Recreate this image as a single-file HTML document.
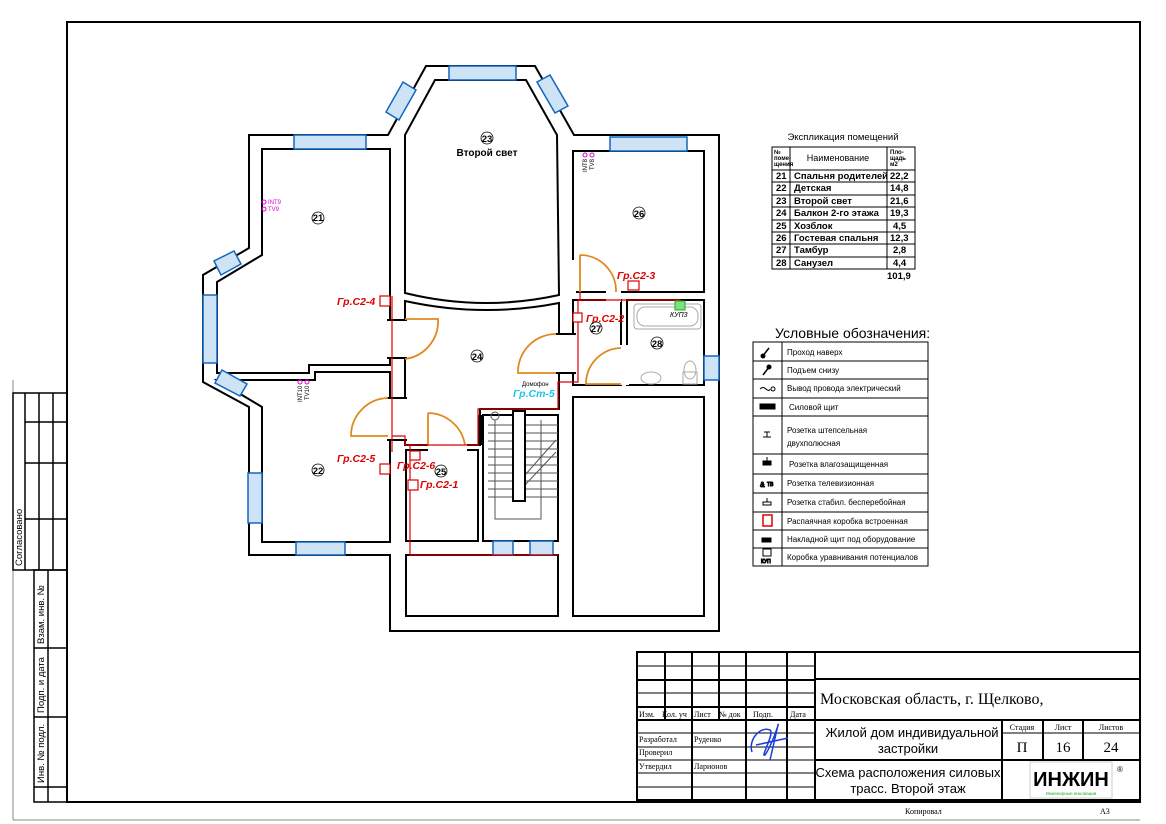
<!DOCTYPE html>
<html><head><meta charset="utf-8"><style>
html,body{margin:0;padding:0;background:#fff;}
svg{display:block;font-family:"Liberation Sans","DejaVu Sans",sans-serif;}
.s{font-family:"Liberation Serif",serif;}
.n{font-family:"Liberation Sans Narrow","Liberation Sans",sans-serif;}
</style></head><body>
<svg width="1166" height="824" viewBox="0 0 1166 824" xmlns="http://www.w3.org/2000/svg">
<rect width="1166" height="824" fill="#fff"/>
<rect x="67" y="22" width="1073" height="780" fill="none" stroke="#000" stroke-width="2"/>
<line x1="13" y1="380" x2="13" y2="820" stroke="#888" stroke-width="1"/>
<line x1="13" y1="820" x2="1140" y2="820" stroke="#888" stroke-width="1"/>
<g stroke="#000" stroke-width="1.5" fill="none">
<rect x="13" y="393" width="54" height="177"/>
<line x1="25" y1="393" x2="25" y2="570"/>
<line x1="39" y1="393" x2="39" y2="570"/>
<line x1="53" y1="393" x2="53" y2="570"/>
<line x1="25" y1="422" x2="67" y2="422"/>
<line x1="25" y1="463" x2="67" y2="463"/>
<line x1="25" y1="519" x2="67" y2="519"/>
<rect x="34" y="570" width="33" height="232"/>
<line x1="48" y1="570" x2="48" y2="802"/>
<line x1="34" y1="648" x2="67" y2="648"/>
<line x1="34" y1="717" x2="67" y2="717"/>
<line x1="34" y1="787" x2="67" y2="787"/>
</g>
<g font-size="9.5">
<text transform="translate(22,566) rotate(-90)">Согласовано</text>
<text transform="translate(44,644) rotate(-90)">Взам. инв. №</text>
<text transform="translate(44,713) rotate(-90)">Подп. и дата</text>
<text transform="translate(44,783) rotate(-90)">Инв. № подл.</text>
</g>

<path d="M249,135 L388,135 L426,66 L535,66 L574,135 L719,135 L719,631 L390,631 L390,555 L249,555 L249,407 L203,382 L203,275 L249,248 Z" fill="#fff" stroke="#000" stroke-width="2"/>
<g fill="#fff" stroke="#000" stroke-width="2">
<path d="M262,149 L390,149 L390,365 L309,365 L309,373 L217,373 L217,282 L262,255 Z"/>
<path d="M217,380 L315,380 L315,372 L390,372 L390,542 L262,542 L262,407 Z"/>
<path d="M405,135 L435,80 L526,80 L557,135 L559,295 Q482,312 405,293 Z"/>
<path d="M405,301 Q482,318 559,303 L559,373 L559,409 L480,409 L480,445 L405,445 Z"/>
<rect x="573" y="151" width="131" height="141"/>
<rect x="573" y="300" width="48" height="85"/>
<rect x="627" y="300" width="77" height="85"/>
<rect x="573" y="397" width="131" height="219"/>
<rect x="406" y="450" width="72" height="91"/>
<rect x="483" y="415" width="75" height="126"/>
<rect x="406" y="555" width="152" height="61"/>
</g>
<g fill="#fff" stroke="none">
<rect x="387" y="320" width="20" height="38"/>
<rect x="387" y="398" width="20" height="42"/>
<rect x="556" y="334" width="20" height="39"/>
<rect x="428" y="443" width="39" height="10"/>
<rect x="570" y="260" width="6" height="35"/>
<rect x="606" y="290" width="15" height="12"/>
<rect x="619" y="345" width="10" height="40"/>
</g>
<g stroke="#000" stroke-width="2" fill="none">
<line x1="387" y1="320" x2="407" y2="320"/><line x1="387" y1="358" x2="407" y2="358"/>
<line x1="387" y1="398" x2="407" y2="398"/><line x1="387" y1="440" x2="407" y2="440"/>
<line x1="556" y1="334" x2="576" y2="334"/><line x1="556" y1="373" x2="576" y2="373"/>
<line x1="480" y1="415" x2="480" y2="445" stroke-width="4"/>
</g>
<g stroke="#555" stroke-width="1" fill="none">
<line x1="488" y1="425" x2="558" y2="425"/><line x1="488" y1="433" x2="558" y2="433"/>
<line x1="488" y1="441" x2="558" y2="441"/><line x1="488" y1="449" x2="558" y2="449"/>
<line x1="488" y1="457" x2="558" y2="457"/><line x1="488" y1="465" x2="558" y2="465"/>
<line x1="488" y1="473" x2="558" y2="473"/><line x1="488" y1="481" x2="558" y2="481"/>
<line x1="488" y1="489" x2="558" y2="489"/><line x1="488" y1="497" x2="558" y2="497"/>
<path d="M495,420 L495,519 L541,519 L541,420"/>
<line x1="525" y1="475" x2="556" y2="440"/><line x1="525" y1="485" x2="556" y2="452"/>
<circle cx="495" cy="416" r="4"/>
</g>
<rect x="513" y="411" width="12" height="90" fill="#fff" stroke="#000" stroke-width="2"/>
<g stroke="#aaa" stroke-width="1" fill="none">
<rect x="634" y="304" width="67" height="25" rx="3"/><rect x="637" y="307" width="61" height="19" rx="8"/>
<ellipse cx="651" cy="378" rx="10" ry="6"/><rect x="683" y="372" width="14" height="12"/><ellipse cx="690" cy="370" rx="6" ry="9"/>
</g>
<g fill="#cfe3f7" stroke="#1565c0" stroke-width="1.5">
<rect x="294" y="135" width="72" height="14"/>
<rect x="296" y="542" width="49" height="13"/>
<rect x="610" y="137" width="77" height="14"/>
<rect x="449" y="66" width="67" height="14"/>
<rect x="203" y="295" width="14" height="68"/>
<rect x="248" y="473" width="14" height="50"/>
<rect x="493" y="541" width="20" height="14"/>
<rect x="530" y="541" width="23" height="14"/>
<rect x="704" y="356" width="15" height="24"/>
<polygon points="403,82 416,90 399,120 386,112"/>
<polygon points="537,82 550,75 568,106 555,113"/>
<polygon points="214,261 221,275 241,264 234,251"/>
<polygon points="215,383 222,370 247,384 240,396"/>
</g>
<g stroke="#e08a1e" stroke-width="1.8" fill="none">
<path d="M405,319 L438,319 A38,38 0 0 1 405,359"/>
<path d="M388,398 A38,38 0 0 0 351,436 L388,436"/>
<path d="M428,413 L428,445 M428,413 A38,38 0 0 1 465,445"/>
<path d="M556,334 A38,38 0 0 0 518,373 L556,373"/>
<path d="M580,255 L580,292 M580,255 A36,36 0 0 1 616,292"/>
<path d="M621,348 A36,36 0 0 0 586,384 L621,384"/>
</g>
<g stroke="#d00" stroke-width="1.2" fill="none">
<path d="M392,296 L392,452 M392,436 L405,436 L405,445 L428,445 L465,445 L478,445 L478,409 L558,409 L558,382 L578,382 L578,300 L628,300 L680,300 L680,310"/>
<path d="M410,445 L410,555 L558,555"/>
<path d="M580,300 L580,292"/>
</g>
<g fill="#fff" stroke="#d00" stroke-width="1.2">
<rect x="380" y="296" width="10" height="10"/>
<rect x="380" y="464" width="10" height="10"/>
<rect x="410" y="451" width="10" height="9"/>
<rect x="408" y="480" width="10" height="10"/>
<rect x="573" y="313" width="9" height="9"/>
<rect x="628" y="281" width="11" height="9"/>
</g>
<rect x="675" y="301" width="10" height="9" fill="#7ee07e" stroke="#2a2" stroke-width="1"/>
<g fill="#d00" font-style="italic" font-size="10.5" font-weight="bold">
<text x="337" y="305">Гр.С2-4</text>
<text x="337" y="462">Гр.С2-5</text>
<text x="397" y="469">Гр.С2-6</text>
<text x="420" y="488">Гр.С2-1</text>
<text x="586" y="322">Гр.С2-2</text>
<text x="617" y="279">Гр.С2-3</text>
</g>
<text x="513" y="397" fill="#19c6e6" font-style="italic" font-size="10.5" font-weight="bold">Гр.Ст-5</text>
<text x="522" y="386" font-size="6">Домофон</text>
<text x="670" y="317" font-size="7" font-style="italic">КУП3</text>
<g fill="#d0d" font-size="6">
<text x="268" y="204">INT9</text><text x="268" y="211">TV9</text>
<circle cx="264" cy="202" r="2" fill="none" stroke="#d0d"/><circle cx="264" cy="209" r="2" fill="none" stroke="#d0d"/>
<circle cx="300" cy="382" r="2" fill="none" stroke="#d0d"/><circle cx="307" cy="382" r="2" fill="none" stroke="#d0d"/>
<circle cx="585" cy="155" r="2" fill="none" stroke="#d0d"/><circle cx="592" cy="155" r="2" fill="none" stroke="#d0d"/>
</g>
<text transform="translate(302,402) rotate(-90)" font-size="6">INT10</text>
<text transform="translate(309,400) rotate(-90)" font-size="6">TV10</text>
<text transform="translate(587,172) rotate(-90)" font-size="6">INT8</text>
<text transform="translate(594,170) rotate(-90)" font-size="6">TV8</text>
<g font-size="9.5" text-anchor="middle" font-weight="bold">
<g fill="none" stroke="#000" stroke-width="0.8">
<circle cx="318" cy="218" r="6"/><circle cx="318" cy="470" r="6"/><circle cx="487" cy="138" r="6"/>
<circle cx="477" cy="356" r="6"/><circle cx="441" cy="471" r="6"/><circle cx="639" cy="213" r="6"/>
<circle cx="596" cy="328" r="6"/><circle cx="657" cy="343" r="6"/>
</g>
<text x="318" y="221">21</text><text x="318" y="474">22</text><text x="487" y="142">23</text>
<text x="477" y="360">24</text><text x="441" y="475">25</text><text x="639" y="217">26</text>
<text x="596" y="332">27</text><text x="657" y="347">28</text>
<text x="487" y="156" font-size="10">Второй свет</text>
</g>

<text x="843" y="140" font-size="9.5" text-anchor="middle">Экспликация помещений</text>
<g stroke="#000" stroke-width="1" fill="none">
<rect x="772" y="147" width="143" height="122"/>
<line x1="790" y1="147" x2="790" y2="269"/><line x1="887" y1="147" x2="887" y2="269"/>
<line x1="772" y1="170" x2="915" y2="170"/><line x1="772" y1="182" x2="915" y2="182"/>
<line x1="772" y1="195" x2="915" y2="195"/><line x1="772" y1="207" x2="915" y2="207"/>
<line x1="772" y1="220" x2="915" y2="220"/><line x1="772" y1="232" x2="915" y2="232"/>
<line x1="772" y1="244" x2="915" y2="244"/><line x1="772" y1="257" x2="915" y2="257"/>
</g>
<g font-size="6" font-weight="bold"><text x="774" y="154">№</text><text x="774" y="160">поме-</text><text x="774" y="166">щения</text>
<text x="890" y="154">Пло-</text><text x="890" y="160">щадь</text><text x="890" y="166">м2</text></g>
<text x="838" y="161" font-size="9" text-anchor="middle">Наименование</text>
<g font-size="9.5" font-weight="bold">
<text x="776" y="179">21</text><text x="794" y="179">Спальня родителей</text><text x="890" y="179">22,2</text>
<text x="776" y="191">22</text><text x="794" y="191">Детская</text><text x="890" y="191">14,8</text>
<text x="776" y="204">23</text><text x="794" y="204">Второй свет</text><text x="890" y="204">21,6</text>
<text x="776" y="216">24</text><text x="794" y="216">Балкон 2-го этажа</text><text x="890" y="216">19,3</text>
<text x="776" y="229">25</text><text x="794" y="229">Хозблок</text><text x="893" y="229">4,5</text>
<text x="776" y="241">26</text><text x="794" y="241">Гостевая спальня</text><text x="890" y="241">12,3</text>
<text x="776" y="253">27</text><text x="794" y="253">Тамбур</text><text x="893" y="253">2,8</text>
<text x="776" y="266">28</text><text x="794" y="266">Санузел</text><text x="893" y="266">4,4</text>
<text x="887" y="279">101,9</text>
</g>

<text x="775" y="338" font-size="14">Условные обозначения:</text>
<g stroke="#000" stroke-width="1" fill="none">
<rect x="753" y="342" width="175" height="224"/>
<line x1="782" y1="342" x2="782" y2="566"/>
<line x1="753" y1="361" x2="928" y2="361"/><line x1="753" y1="379" x2="928" y2="379"/>
<line x1="753" y1="398" x2="928" y2="398"/><line x1="753" y1="416" x2="928" y2="416"/>
<line x1="753" y1="454" x2="928" y2="454"/><line x1="753" y1="474" x2="928" y2="474"/>
<line x1="753" y1="493" x2="928" y2="493"/><line x1="753" y1="512" x2="928" y2="512"/>
<line x1="753" y1="530" x2="928" y2="530"/><line x1="753" y1="548" x2="928" y2="548"/>
</g>
<g font-size="8" class="n">
<text x="787" y="355">Проход наверх</text>
<text x="787" y="373">Подъем снизу</text>
<text x="787" y="391">Вывод провода электрический</text>
<text x="789" y="410">Силовой щит</text>
<text x="787" y="433">Розетка штепсельная</text>
<text x="787" y="446">двухполюсная</text>
<text x="789" y="467">Розетка влагозащищенная</text>
<text x="787" y="486">Розетка телевизионная</text>
<text x="787" y="505">Розетка стабил. бесперебойная</text>
<text x="787" y="524">Распаячная коробка встроенная</text>
<text x="787" y="542">Накладной щит под оборудование</text>
<text x="787" y="560">Коробка уравнивания потенциалов</text>
</g>
<g stroke="#000" fill="#000">
<line x1="762" y1="357" x2="769" y2="348" stroke-width="1.5"/><circle cx="763" cy="356" r="2"/>
<line x1="763" y1="375" x2="769" y2="367" stroke-width="1.5"/><circle cx="769" cy="367" r="2"/>
<path d="M760,389 q3,-3 6,0 t4,0" fill="none"/><circle cx="773" cy="389" r="2" fill="none"/>
<rect x="760" y="404" width="15" height="5"/>
<path d="M763,437 h8 M767,437 v-5 M764,432 h6" fill="none"/>
<rect x="763" y="461" width="8" height="4"/><line x1="767" y1="461" x2="767" y2="457"/>
<text x="760" y="487" font-size="7">&amp;</text><text x="767" y="486" font-size="5">ТВ</text>
<path d="M763,505 h8 v-3 h-8 z M767,502 v-4" fill="none"/>
<rect x="763" y="515" width="9" height="11" fill="none" stroke="#d00" stroke-width="1.5"/>
<rect x="762" y="538" width="9" height="4"/>
<rect x="763" y="549" width="8" height="7" fill="none"/><text x="761" y="563" font-size="5">КУП</text>
</g>

<g stroke="#000" stroke-width="2" fill="none">
<rect x="637" y="652" width="503" height="148"/>
<line x1="815" y1="652" x2="815" y2="800"/>
<line x1="815" y1="679" x2="1140" y2="679"/>
<line x1="815" y1="720" x2="1140" y2="720"/>
<line x1="815" y1="760" x2="1140" y2="760"/>
<line x1="1002" y1="720" x2="1002" y2="800"/>
<line x1="1043" y1="720" x2="1043" y2="760"/>
<line x1="1083" y1="720" x2="1083" y2="760"/>
<line x1="1002" y1="733" x2="1140" y2="733" stroke-width="1"/>
<line x1="665" y1="652" x2="665" y2="720"/>
<line x1="692" y1="652" x2="692" y2="800"/>
<line x1="719" y1="652" x2="719" y2="720"/>
<line x1="746" y1="652" x2="746" y2="800"/>
<line x1="787" y1="652" x2="787" y2="800"/>
<line x1="637" y1="666" x2="815" y2="666" stroke-width="1"/>
<line x1="637" y1="680" x2="815" y2="680"/>
<line x1="637" y1="693" x2="815" y2="693" stroke-width="1"/>
<line x1="637" y1="707" x2="815" y2="707"/>
<line x1="637" y1="720" x2="815" y2="720"/>
<line x1="637" y1="733" x2="815" y2="733" stroke-width="1"/>
<line x1="637" y1="747" x2="815" y2="747" stroke-width="1"/>
<line x1="637" y1="760" x2="815" y2="760" stroke-width="1"/>
<line x1="637" y1="773" x2="815" y2="773" stroke-width="1"/>
<line x1="637" y1="787" x2="815" y2="787" stroke-width="1"/>
</g>
<g class="s" font-size="8">
<text x="639" y="717">Изм.</text><text x="662" y="717">Кол. уч</text><text x="694" y="717">Лист</text><text x="719" y="717">№ док</text>
<text x="753" y="717">Подп.</text><text x="790" y="717">Дата</text>
<text x="639" y="742">Разработал</text><text x="694" y="742">Руденко</text>
<text x="639" y="755">Проверил</text>
<text x="639" y="769">Утвердил</text><text x="694" y="769">Ларионов</text>
<text x="905" y="814">Копировал</text><text x="1100" y="814">А3</text>
</g>
<path d="M752,752 C748,740 760,726 770,730 C775,733 760,758 765,755 C772,745 780,720 778,725 L770,760 M756,745 L788,738" stroke="#1a3be0" stroke-width="1.5" fill="none"/>
<text x="820" y="704" class="s" font-size="16">Московская область, г. Щелково,</text>
<text x="912" y="737" font-size="13" text-anchor="middle">Жилой дом индивидуальной</text>
<text x="908" y="753" font-size="13" text-anchor="middle">застройки</text>
<text x="908" y="777" font-size="13" text-anchor="middle">Схема расположения силовых</text>
<text x="908" y="793" font-size="13" text-anchor="middle">трасс. Второй этаж</text>
<g class="s" text-anchor="middle"><text x="1022" y="730" font-size="8">Стадия</text><text x="1063" y="730" font-size="8">Лист</text><text x="1111" y="730" font-size="8">Листов</text>
<text x="1022" y="752" font-size="15">П</text><text x="1063" y="752" font-size="15">16</text><text x="1111" y="752" font-size="15">24</text></g>
<rect x="1030" y="762" width="82" height="36" fill="#fff" stroke="#ccc"/>
<text x="1071" y="786" font-size="20" font-weight="bold" text-anchor="middle" fill="#000">ИНЖИН</text>
<text x="1071" y="795" font-size="4.5" text-anchor="middle" fill="#2a2">Инженерные инновации</text>
<text x="1117" y="772" font-size="8">®</text>
</svg>
</body></html>
